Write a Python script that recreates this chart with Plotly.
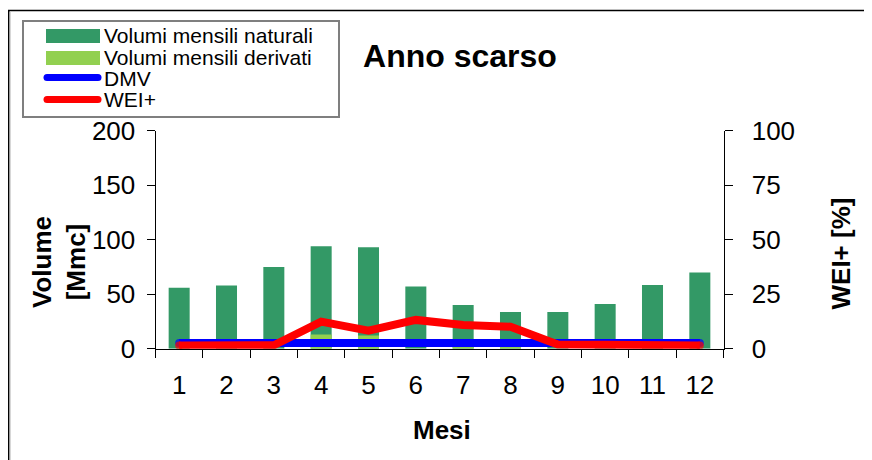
import plotly.graph_objects as go

# page offset of the figure inside the browser (default body margin)
OFF = 8
W, H = 872 - OFF, 460 - OFF

mesi = [str(i) for i in range(1, 13)]
volumi_naturali = [56, 58, 75, 94, 93, 57, 40, 33.7, 33.7, 41, 58.4, 70]
volumi_derivati = [0, 0, 0, 13, 12, 0, 3, 3, 0, 0, 0, 0]
dmv = [5.3] * 12
wei = [1.5, 1.5, 1.6, 12.4, 8.3, 13.2, 10.9, 10.1, 1.9, 1.8, 1.6, 1.5]

names = ["Volumi mensili naturali", "Volumi mensili derivati", "DMV", "WEI+"]
colors = ["#339966", "#92D050", "#0000FF", "#FF0000"]

FONT = "Liberation Sans, Arial, sans-serif"

def px(x):
    return (x - OFF) / W

def py(y):
    return (H - (y - OFF)) / H

x_dom = [px(155.5), px(723.5)]
y_dom = [py(348.7), py(130.7)]

end_caps = [8] + [0] * (len(mesi) - 2) + [8]

fig = go.Figure()
fig.add_trace(go.Bar(x=mesi, y=volumi_naturali, name=names[0], marker_color=colors[0],
                     marker_line_width=0, showlegend=False))
fig.add_trace(go.Bar(x=mesi, y=volumi_derivati, name=names[1], marker_color=colors[1],
                     marker_line_width=0, showlegend=False))
fig.add_trace(go.Scatter(x=mesi, y=dmv, name=names[2], mode="lines+markers",
                         line=dict(color=colors[2], width=8),
                         marker=dict(size=end_caps, color=colors[2], line=dict(width=0)),
                         showlegend=False))
fig.add_trace(go.Scatter(x=mesi, y=wei, name=names[3], mode="lines+markers", yaxis="y2",
                         line=dict(color=colors[3], width=8),
                         marker=dict(size=end_caps, color=colors[3], line=dict(width=0)),
                         showlegend=False))

axis_common = dict(showgrid=False, zeroline=False, showline=True, linecolor="black",
                   linewidth=1, ticks="outside", ticklen=8, tickwidth=1, tickcolor="black",
                   automargin=False,
                   tickfont=dict(family=FONT, size=26, color="black"))

fig.update_layout(
    width=W, height=H,
    margin=dict(l=0, r=0, t=0, b=0, autoexpand=False),
    paper_bgcolor="white", plot_bgcolor="white",
    barmode="overlay", bargap=0.556,
    showlegend=False,
    title=dict(text="<b>Anno scarso</b>", x=px(460), y=py(56), xref="paper", yref="paper",
               xanchor="center", yanchor="middle", automargin=False,
               font=dict(family=FONT, size=32, color="black")),
    xaxis=dict(domain=x_dom, type="category", categoryorder="array", categoryarray=mesi,
               range=[-0.5, 11.5], tickson="boundaries", anchor="y", ticklabelstandoff=13,
               **axis_common),
    yaxis=dict(domain=y_dom, range=[0, 200], dtick=50, anchor="x", ticklabelstandoff=6,
               **axis_common),
    yaxis2=dict(range=[0, 100], dtick=25, overlaying="y", side="right", anchor="x",
                ticklabelstandoff=14, **axis_common),
    yaxis3=dict(range=[0, 100], dtick=25, overlaying="y", side="right", anchor="x",
                showgrid=False, zeroline=False, showline=False, ticks="inside", ticklen=8,
                tickwidth=1, tickcolor="black", showticklabels=False, automargin=False),
)

P = dict(xref="paper", yref="paper")
shapes = []
# page frames
shapes.append(dict(type="line", x0=px(8), x1=1, y0=py(10.5), y1=py(10.5), line=dict(color="black", width=1.5), **P))
shapes.append(dict(type="line", x0=px(8.5), x1=px(8.5), y0=py(10), y1=0, line=dict(color="black", width=2), **P))
shapes.append(dict(type="line", x0=px(10), x1=px(10), y0=py(12), y1=0, line=dict(color="#b0b0b0", width=1), **P))
# legend box
shapes.append(dict(type="rect", x0=px(23), x1=px(339), y0=py(117), y1=py(21),
                   line=dict(color="#7f7f7f", width=2), fillcolor="white", layer="above", **P))
shapes.append(dict(type="rect", x0=px(46), x1=px(100), y0=py(43), y1=py(29),
                   line=dict(width=0), fillcolor=colors[0], layer="above", **P))
shapes.append(dict(type="rect", x0=px(46), x1=px(100), y0=py(65), y1=py(51),
                   line=dict(width=0), fillcolor=colors[1], layer="above", **P))
for yc, c in [(77.5, colors[2]), (99.5, colors[3])]:
    shapes.append(dict(type="line", x0=px(47), x1=px(98), y0=py(yc), y1=py(yc),
                       line=dict(color=c, width=7), layer="above", **P))
    for xc in (47, 98):
        shapes.append(dict(type="circle", x0=px(xc - 3.5), x1=px(xc + 3.5), y0=py(yc + 3.5),
                           y1=py(yc - 3.5), line=dict(width=0), fillcolor=c, layer="above", **P))
fig.update_layout(shapes=shapes)

ann = []
for nm, yc in zip(names, [35.5, 57, 78, 100]):
    ann.append(dict(text=nm, x=px(102), y=py(yc), xanchor="left",
                    yanchor="middle", showarrow=False, font=dict(family=FONT, size=21, color="black"), **P))
ann.append(dict(text="<b>Volume<br>[Mmc]</b>", x=px(59), y=py(262),
                xanchor="center", yanchor="middle", textangle=-90, showarrow=False,
                font=dict(family=FONT, size=26, color="black"), **P))
ann.append(dict(text="<b>WEI+ [%]</b>", x=px(840), y=py(253.5),
                xanchor="center", yanchor="middle", textangle=-90, showarrow=False,
                font=dict(family=FONT, size=26, color="black"), **P))
ann.append(dict(text="<b>Mesi</b>", x=px(441.5), y=py(430),
                xanchor="center", yanchor="middle", showarrow=False,
                font=dict(family=FONT, size=26, color="black"), **P))
fig.update_layout(annotations=ann)

fig.write_html("out.html")
